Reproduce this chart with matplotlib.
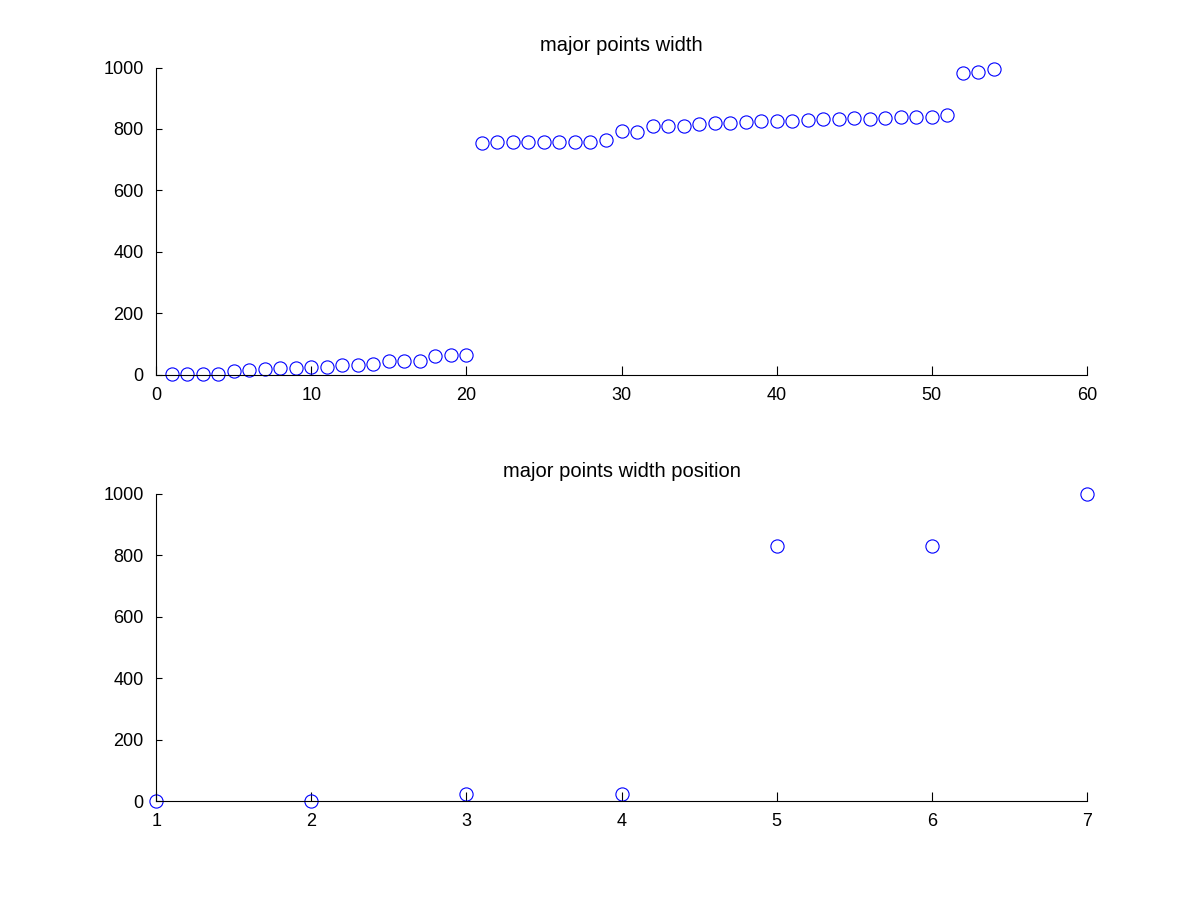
import numpy as np
import matplotlib
matplotlib.use('Agg')
import matplotlib.pyplot as plt

# top panel: sorted widths
width_idx = np.arange(1, 55)
widths = [2, 1, 3, 3, 12, 15, 18, 22, 22, 25,
          25, 32, 32, 35, 45, 45, 45, 59, 64, 64,
          755, 758, 758, 757, 759, 759, 759, 759, 763, 792,
          791, 808, 808, 808, 816, 819, 819, 822, 826, 826,
          826, 829, 832, 832, 835, 832, 835, 839, 839, 839,
          845, 983, 986, 996]

# bottom panel: width at major positions
pos_idx = [1, 2, 3, 4, 5, 6, 7]
pos_widths = [0, 0, 22, 22, 829, 832, 1000]

plt.rcParams['font.family'] = ['Liberation Sans', 'DejaVu Sans']

fig = plt.figure(figsize=(12.01, 9.0), dpi=100)
ax1 = fig.add_axes([0.13, 0.5838, 0.775, 0.3412])
ax2 = fig.add_axes([0.13, 0.11, 0.775, 0.3412])


def matlab_style(ax, title):
    ax.spines['top'].set_visible(False)
    ax.spines['right'].set_visible(False)
    ax.spines['left'].set_linewidth(0.8)
    ax.spines['bottom'].set_linewidth(0.8)
    ax.tick_params(axis='x', direction='in', length=6.5, width=0.8, pad=9, labelsize=13)
    ax.tick_params(axis='y', direction='in', length=4, width=0.8, pad=9, labelsize=13)
    ax.set_title(title, fontsize=14.5, pad=12)


ax1.plot(width_idx, widths, 'o', mfc='none', mec=(0, 0, 1), ms=9.5, mew=0.8, clip_on=False)
ax1.set_xlim(0, 60)
ax1.set_ylim(0, 1000)
ax1.set_xticks(range(0, 61, 10))
ax1.set_yticks(range(0, 1001, 200))
matlab_style(ax1, 'major points width')

ax2.plot(pos_idx, pos_widths, 'o', mfc='none', mec=(0, 0, 1), ms=9.5, mew=0.8, clip_on=False)
ax2.set_xlim(1, 7)
ax2.set_ylim(0, 1000)
ax2.set_xticks(range(1, 8))
ax2.set_yticks(range(0, 1001, 200))
matlab_style(ax2, 'major points width position')

fig.savefig('out.png', dpi=100)
